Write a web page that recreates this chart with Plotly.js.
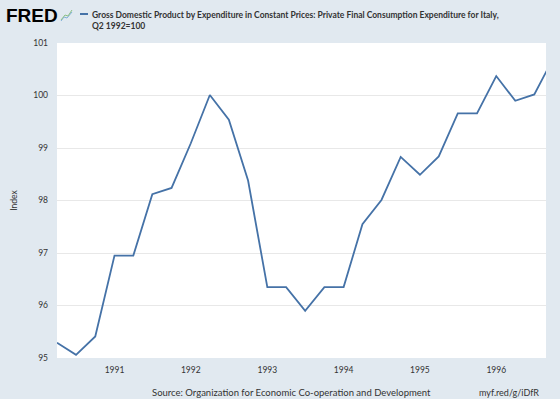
<!DOCTYPE html>
<html>
<head>
<meta charset="utf-8">
<script src="https://cdn.plot.ly/plotly-3.0.1.min.js"></script>
<style>html,body{margin:0;padding:0;background:#e1e9f0;}#chart{width:560px;height:399px;}</style>
</head>
<body>
<div id="chart"></div>
<script>
const dates = [
  '1990-04-01','1990-07-01','1990-10-01',
  '1991-01-01','1991-04-01','1991-07-01','1991-10-01',
  '1992-01-01','1992-04-01','1992-07-01','1992-10-01',
  '1993-01-01','1993-04-01','1993-07-01','1993-10-01',
  '1994-01-01','1994-04-01','1994-07-01','1994-10-01',
  '1995-01-01','1995-04-01','1995-07-01','1995-10-01',
  '1996-01-01','1996-04-01','1996-07-01','1996-10-01'
];
const values = [
  95.29, 95.06, 95.41,
  96.95, 96.95, 98.12, 98.24,
  99.09, 100.01, 99.54, 98.38,
  96.35, 96.35, 95.90, 96.35,
  96.35, 97.55, 98.01, 98.83,
  98.49, 98.84, 99.66, 99.66,
  100.37, 99.90, 100.02, 100.72
];
const yTicks = [95, 96, 97, 98, 99, 100, 101];
const titleText = 'Gross Domestic Product by Expenditure in Constant Prices: Private Final Consumption Expenditure for Italy,<br>Q2 1992=100';
const sourceText = 'Source: Organization for Economic Co-operation and Development';
const linkText = 'myf.red/g/iDfR';

const L = 57, R = 546, T = 43, B = 358;
const px = x => (x - L) / (R - L);
const py = y => (B - y) / (B - T);
const font = 'Lato, "Liberation Sans", Arial, sans-serif';
const blue = '#4572a7';

const trace = {
  x: dates, y: values, type: 'scatter', mode: 'lines',
  line: {color: blue, width: 1.8}, hoverinfo: 'skip'
};

const layout = {
  width: 560, height: 399,
  paper_bgcolor: '#e1e9f0', plot_bgcolor: '#ffffff',
  margin: {l: L, r: 560 - R, t: T, b: 399 - B},
  showlegend: false,
  font: {family: font, size: 8, color: '#333333'},
  xaxis: {
    type: 'date', range: ['1990-04-01', '1996-08-26'],
    tick0: '1991-01-01', dtick: 'M12', tickformat: '%Y',
    showgrid: false, zeroline: false, showline: false,
    ticks: '', ticklen: 0, ticklabelstandoff: 5,
    tickfont: {family: font, size: 8.5, color: '#333333'}
  },
  yaxis: {
    range: [95, 101], tickvals: yTicks, ticktext: yTicks.map(String),
    showgrid: true, gridcolor: '#e8e8e8', gridwidth: 1,
    zeroline: false, showline: false, ticks: '', ticklabelstandoff: 8,
    tickfont: {family: font, size: 8.5, color: '#333333'},
    title: {text: 'Index', font: {family: font, size: 8.5, color: '#333333'}, standoff: 14}
  },
  shapes: [
    {type: 'line', xref: 'paper', yref: 'paper', x0: px(80), x1: px(88), y0: py(14), y1: py(14), line: {color: blue, width: 2}},
    {type: 'path', xref: 'paper', yref: 'paper',
     path: 'M' + px(61) + ',' + py(21) + ' L' + px(64) + ',' + py(17) + ' L' + px(67) + ',' + py(18) + ' L' + px(72) + ',' + py(12),
     line: {color: '#7fb0d8', width: 1}},
    {type: 'path', xref: 'paper', yref: 'paper',
     path: 'M' + px(61) + ',' + py(20) + ' L' + px(65) + ',' + py(15) + ' L' + px(68) + ',' + py(16) + ' L' + px(72) + ',' + py(10),
     line: {color: '#8cc084', width: 1}}
  ],
  annotations: [
    {text: '<b>FRED</b>', xref: 'paper', yref: 'paper', x: px(4), y: py(15), xanchor: 'left', yanchor: 'middle',
     showarrow: false, font: {family: '"Liberation Sans", Arial, sans-serif', size: 19, color: '#000000'}},
    {text: '<b>' + titleText + '</b>', xref: 'paper', yref: 'paper', x: px(90), y: py(8), xanchor: 'left', yanchor: 'top',
     align: 'left', showarrow: false, font: {family: font, size: 8.5, color: '#333333'}},
    {text: sourceText, xref: 'paper', yref: 'paper', x: px(291), y: py(392), xanchor: 'center', yanchor: 'middle',
     showarrow: false, font: {family: font, size: 9.5, color: '#333333'}},
    {text: linkText, xref: 'paper', yref: 'paper', x: px(541), y: py(392), xanchor: 'right', yanchor: 'middle',
     showarrow: false, font: {family: font, size: 9, color: '#333333'}}
  ]
};

Plotly.newPlot('chart', [trace], layout, {staticPlot: true, displayModeBar: false});
</script>
</body>
</html>
